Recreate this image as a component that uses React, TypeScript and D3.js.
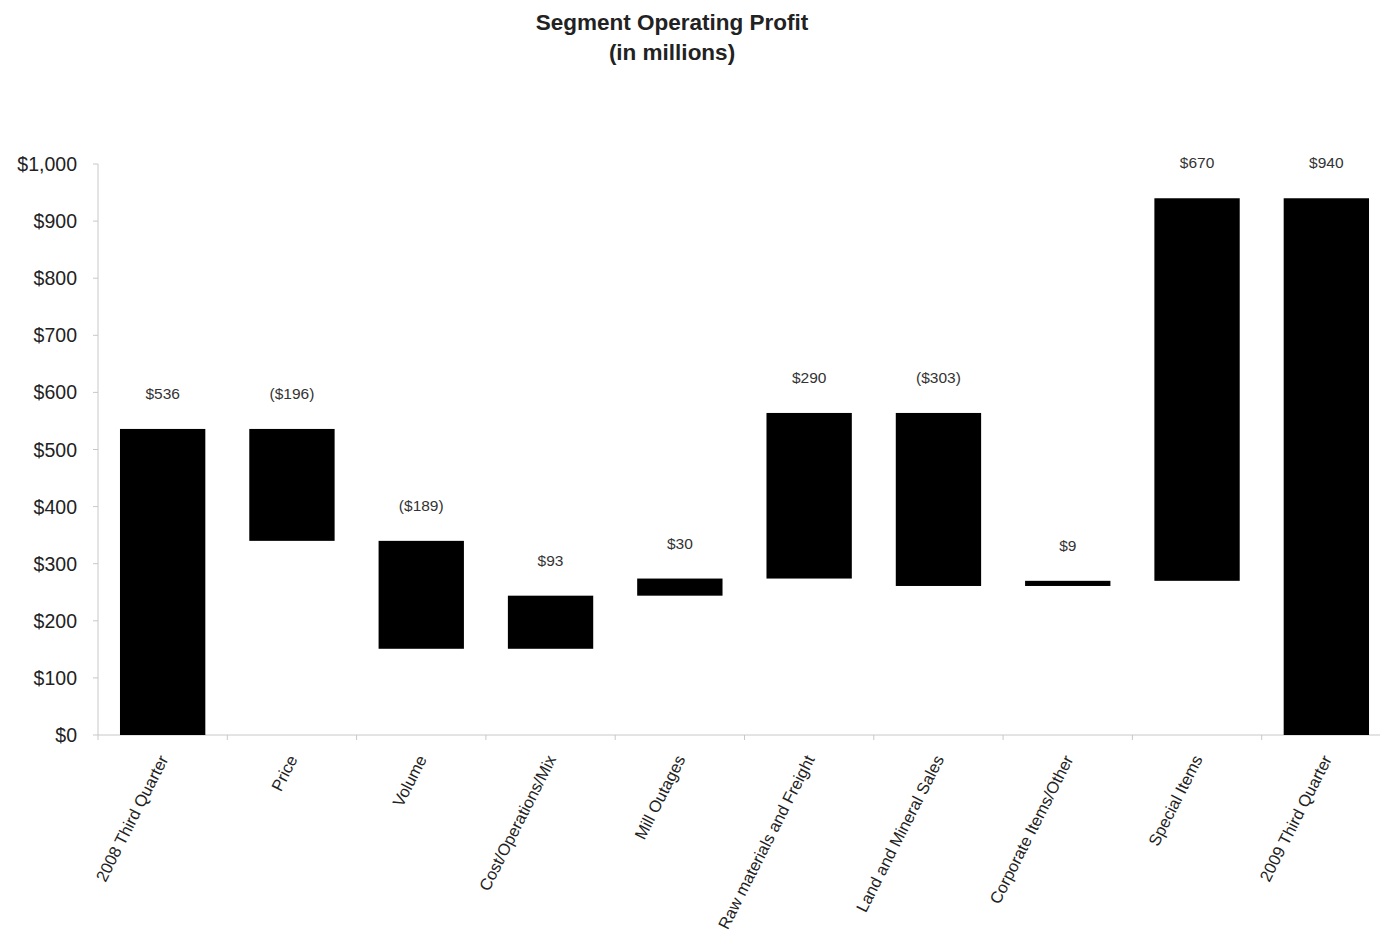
import * as d3 from "d3";

const categories = [
  "2008 Third Quarter",
  "Price",
  "Volume",
  "Cost/Operations/Mix",
  "Mill Outages",
  "Raw materials and Freight",
  "Land and Mineral Sales",
  "Corporate Items/Other",
  "Special Items",
  "2009 Third Quarter",
];
// change for each step; totals are marked separately
const changes = [536, -196, -189, 93, 30, 290, -303, 9, 670, 940];
const isTotal = [true, false, false, false, false, false, false, false, false, true];
const yTicks = [0, 100, 200, 300, 400, 500, 600, 700, 800, 900, 1000];

const W = 1380;
const H = 932;

const fmt = (v: number) => {
  const s = "$" + d3.format(",")(Math.abs(v));
  return v < 0 ? `(${s})` : s;
};

export default function App() {
  const x = d3.scaleBand().domain(categories).range([98, 1391]).paddingInner(0).paddingOuter(0);
  const y = d3.scaleLinear().domain([0, 1000]).range([735, 164]);
  const bw = x.bandwidth() * 0.66;

  let run = 0;
  const bars = categories.map((c, i) => {
    let lo: number, hi: number;
    if (isTotal[i]) {
      lo = 0;
      hi = changes[i];
      run = changes[i];
    } else {
      const next = run + changes[i];
      lo = Math.min(run, next);
      hi = Math.max(run, next);
      run = next;
    }
    return { c, lo, hi, v: changes[i] };
  });

  const font = "'Liberation Sans', Arial, sans-serif";

  return (
    <svg
      width={W}
      height={H}
      style={{ position: "absolute", left: 0, top: 0, background: "#fff" }}
      fontFamily={font}
    >
      <text x={672} y={30} textAnchor="middle" fontSize={22.5} fontWeight="bold" fill="#222">
        Segment Operating Profit
      </text>
      <text x={672} y={60} textAnchor="middle" fontSize={22.5} fontWeight="bold" fill="#222">
        (in millions)
      </text>

      {/* y axis */}
      <line x1={98} x2={98} y1={y(1000)} y2={y(0)} stroke="#c8c8c8" />
      {yTicks.map((t) => (
        <g key={t}>
          <line x1={93} x2={98} y1={y(t)} y2={y(t)} stroke="#c8c8c8" />
          <text x={77} y={y(t)} dy="0.36em" textAnchor="end" fontSize={19.5} fill="#222">
            {"$" + d3.format(",")(t)}
          </text>
        </g>
      ))}

      {/* x axis */}
      <line x1={98} x2={1391} y1={y(0)} y2={y(0)} stroke="#c8c8c8" />
      {categories.map((c) => (
        <line key={c} x1={x(c)!} x2={x(c)!} y1={y(0)} y2={y(0) + 5} stroke="#c8c8c8" />
      ))}

      {bars.map((b) => {
        const cx = x(b.c)! + x.bandwidth() / 2;
        return (
          <g key={b.c}>
            <rect
              x={cx - bw / 2}
              y={y(b.hi)}
              width={bw}
              height={Math.max(3, y(b.lo) - y(b.hi))}
              fill="#000"
            />
            <text x={cx} y={y(b.hi) - 30} textAnchor="middle" fontSize={15.5} fill="#333">
              {fmt(b.v)}
            </text>
            <text
              transform={`translate(${cx + 6},${y(0) + 24}) rotate(-63)`}
              textAnchor="end"
              fontSize={16.5}
              fill="#222"
            >
              {b.c}
            </text>
          </g>
        );
      })}
    </svg>
  );
}
